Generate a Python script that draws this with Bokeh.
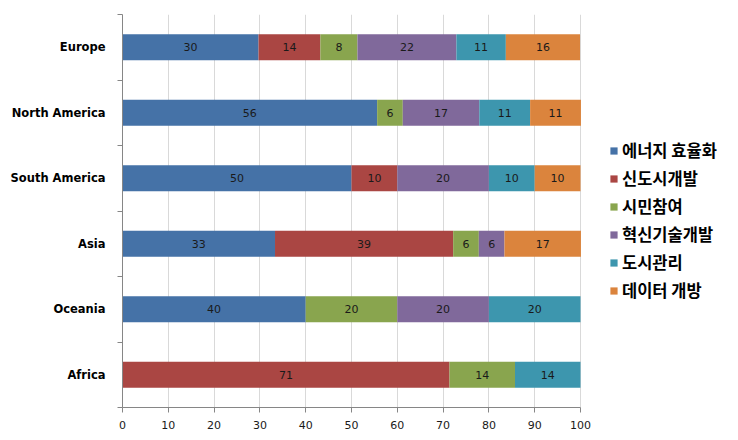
from bokeh.plotting import figure
from bokeh.models import ColumnDataSource, FixedTicker, Range1d, Legend
from bokeh.core.properties import value
from bokeh.embed import file_html
from bokeh.resources import INLINE

regions = ["Europe", "North America", "South America", "Asia", "Oceania", "Africa"]
series = ["에너지 효율화", "신도시개발", "시민참여", "혁신기술개발", "도시관리", "데이터 개방"]
energy = [29.7, 55.6, 50.0, 33.3, 40.0, 0.0]
newtown = [13.5, 0.0, 10.0, 38.9, 0.0, 71.4]
citizen = [8.1, 5.6, 0.0, 5.6, 20.0, 14.3]
innovation = [21.6, 16.7, 20.0, 5.6, 20.0, 0.0]
management = [10.8, 11.1, 10.0, 0.0, 20.0, 14.3]
opendata = [16.2, 11.1, 10.0, 16.7, 0.0, 0.0]
x_ticks = list(range(0, 101, 10))
colors = ["#4572A7", "#AA4643", "#89A54E", "#80699B", "#3D96AE", "#DB843D"]

values = [energy, newtown, citizen, innovation, management, opendata]
keys = ["s%d" % i for i in range(len(series))]
n = len(regions)
ypos = [n - i - 0.5 for i in range(n)]

data = {"y": ypos}
for k, v in zip(keys, values):
    data[k] = v
source = ColumnDataSource(data)

W, H = 730, 432
LEFT, TOP, BOTTOM = 122, 14, 25
PLOT_RIGHT = 580  # pixel where the value 100 sits; space beyond hosts the legend
x_end = 100.0 * (W - LEFT) / (PLOT_RIGHT - LEFT)

p = figure(width=W, height=H, output_backend="svg", toolbar_location=None,
           x_range=Range1d(0, x_end), y_range=Range1d(0, n),
           min_border_left=LEFT, min_border_right=0, min_border_top=TOP, min_border_bottom=BOTTOM)
p.outline_line_color = None
p.background_fill_color = "white"
p.border_fill_color = "white"

renderers = p.hbar_stack(keys, y="y", height=0.4, color=colors, line_color=None, source=source)

# data labels
lx, ly, lt = [], [], []
for r in range(n):
    left = 0.0
    for s in range(len(series)):
        v = values[s][r]
        if v > 0:
            lx.append(left + v / 2)
            ly.append(ypos[r])
            lt.append("%d" % int(v + 0.5))
        left += v
p.text(x=lx, y=ly, text=lt, text_align="center", text_baseline="middle",
       text_font=value("DejaVu Sans"), text_font_size="11px", text_color="#1a1a1a")

# axes
p.ygrid.grid_line_color = None
p.xgrid.ticker = FixedTicker(ticks=x_ticks)
p.xgrid.grid_line_color = "#D9D9D9"
p.xgrid.bounds = (0, 100)

xa = p.xaxis[0]
xa.ticker = FixedTicker(ticks=x_ticks)
xa.bounds = (0, 100)
xa.axis_line_color = "#868686"
xa.major_tick_line_color = "#868686"
xa.major_tick_in = 0
xa.major_tick_out = 5
xa.minor_tick_line_color = None
xa.major_label_text_font = "DejaVu Sans"
xa.major_label_text_font_size = "11px"
xa.major_label_text_color = "#1a1a1a"
xa.major_label_standoff = 8

ya = p.yaxis[0]
ya.ticker = FixedTicker(ticks=ypos, minor_ticks=list(range(n + 1)))
ya.major_label_overrides = {y: r for y, r in zip(ypos, regions)}
ya.axis_line_color = "#868686"
ya.major_tick_line_color = None
ya.major_tick_in = 0
ya.major_tick_out = 0
ya.minor_tick_line_color = "#868686"
ya.minor_tick_in = 0
ya.minor_tick_out = 5
ya.major_label_text_font = "DejaVu Sans"
ya.major_label_text_font_style = "bold"
ya.major_label_text_font_size = "11.5px"
ya.major_label_text_color = "#000000"
ya.major_label_standoff = 12

legend = Legend(items=[(s, [r]) for s, r in zip(series, renderers)],
                location=(487, 105), padding=0, margin=0, spacing=4,
                glyph_width=9, glyph_height=9, label_standoff=4,
                label_text_font="Noto Sans CJK KR", label_text_font_style="bold",
                label_text_font_size="16.5px", label_text_color="#000000",
                border_line_color=None, background_fill_alpha=0)
p.add_layout(legend, "center")

open("out.html", "w").write(file_html(p, INLINE))
